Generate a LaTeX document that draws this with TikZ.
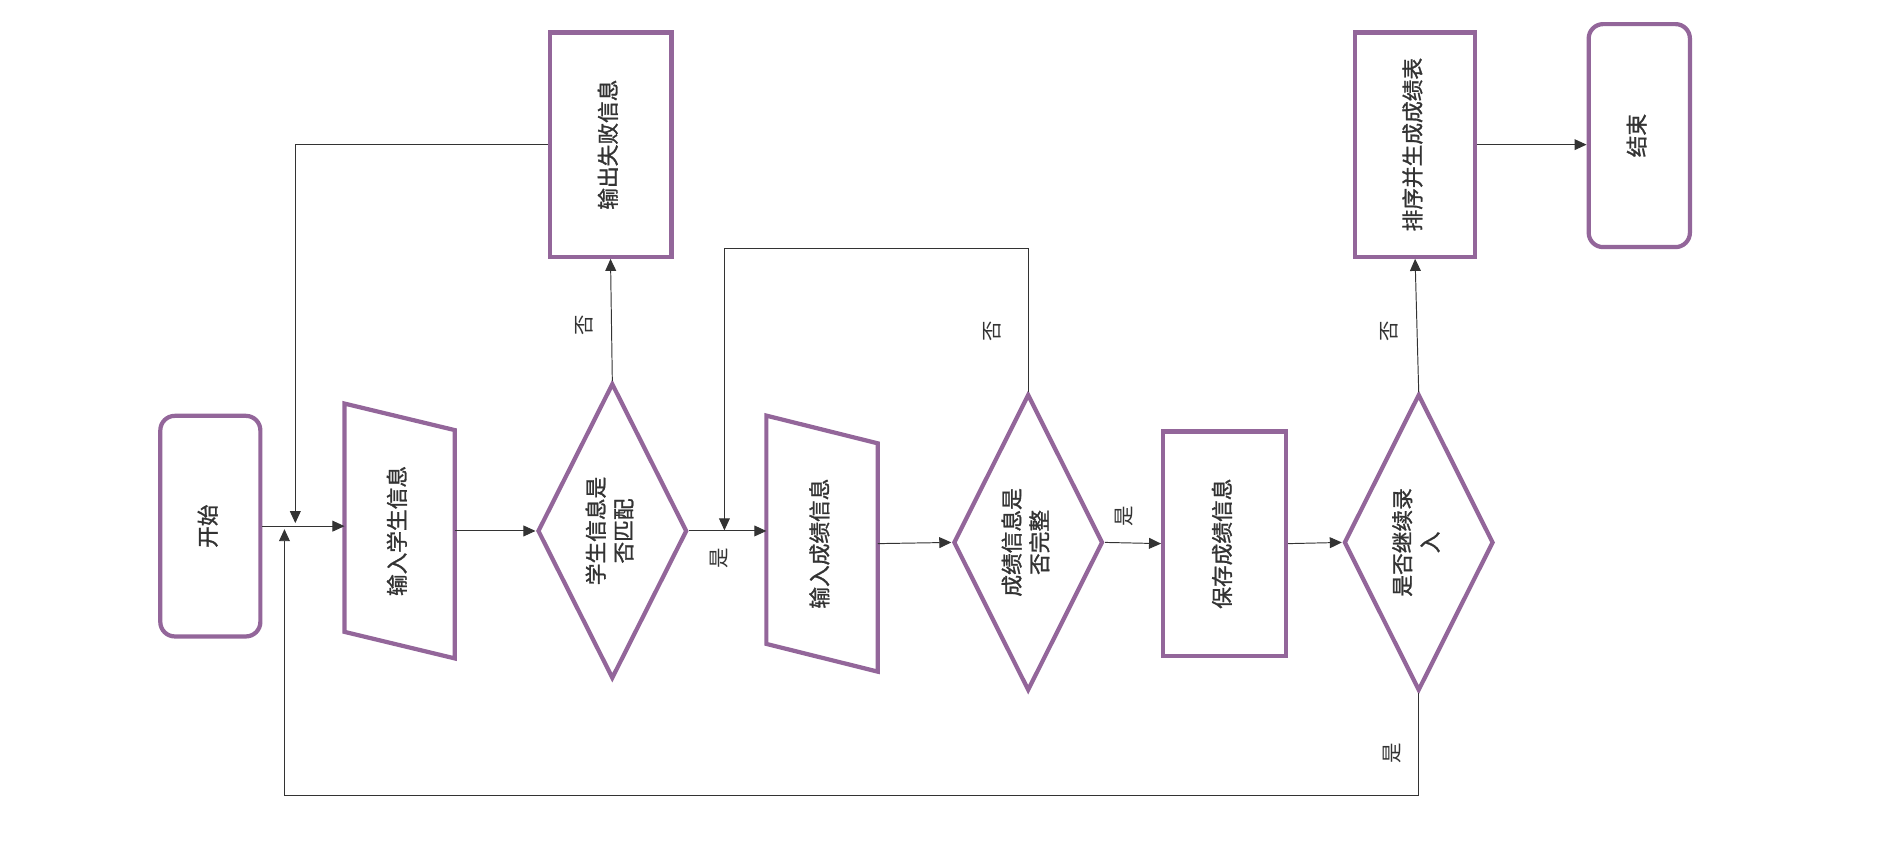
\documentclass[tikz,border=0pt]{standalone}
\usepackage{fontspec}
\setmainfont{Noto Sans CJK SC}
\newfontfamily\boxfont[FakeBold=1.2]{Noto Sans CJK SC}
\usepackage{tikz}
\usetikzlibrary{shapes.geometric,arrows.meta}
\definecolor{boxpurple}{HTML}{93669A}
\definecolor{txtgrey}{HTML}{333333}
\newcommand{\vtxt}[1]{\rotatebox{90}{\begin{tabular}{@{}c@{}}#1\end{tabular}}}

\begin{document}
\begin{tikzpicture}[x=1pt,y=1pt,
	box/.style={draw=boxpurple,line width=3.5pt},
	roundbox/.style={box,rounded corners=12pt},
	decision/.style={box,diamond,aspect=0.5},
	arrow/.style={draw=txtgrey,line width=0.8pt,-{Triangle[length=10pt,width=9pt]}},
	answer/.style={font=\normalfont\fontsize{17}{19}\selectfont,rotate=90}]
			\tikzstyle{every node}+=[inner sep=0pt,text=txtgrey,font=\boxfont\fontsize{18}{23}\selectfont]
			\useasboundingbox (0,0) rectangle (1568,-718.5);
			\node [roundbox,minimum width=83pt,minimum height=183pt] (start) at (174.5,-436.5) {\vtxt{开始}};
			\node [minimum width=91pt,minimum height=211pt] (in1) at (331.5,-440.5) {\vtxt{输入学生信息}};
			\draw [box] (in1.north west) -- ([yshift=-22pt]in1.north east) -- (in1.south east) -- ([yshift=22pt]in1.south west) -- cycle;
			\node [decision,minimum width=124pt,minimum height=245pt] (d1) at (508,-440.5) {\vtxt{学生信息是\\否匹配}};
			\node [box,minimum width=101pt,minimum height=186pt] (fail) at (506.5,-120) {\vtxt{输出失败信息}};
			\node [minimum width=92pt,minimum height=212pt] (in2) at (682,-451) {\vtxt{输入成绩信息}};
			\draw [box] (in2.north west) -- ([yshift=-23pt]in2.north east) -- (in2.south east) -- ([yshift=23pt]in2.south west) -- cycle;
			\node [decision,minimum width=124pt,minimum height=246pt] (d2) at (853,-450) {\vtxt{成绩信息是\\否完整}};
			\node [box,minimum width=102pt,minimum height=186pt] (save) at (1016,-451) {\vtxt{保存成绩信息}};
			\node [decision,minimum width=124pt,minimum height=246pt] (d3) at (1177,-450) {\vtxt{是否继续录\\入}};
			\node [box,minimum width=100pt,minimum height=186pt] (sort) at (1174,-120) {\vtxt{排序并生成成绩表}};
			\node [roundbox,minimum width=84pt,minimum height=185pt] (stop) at (1360,-112.5) {\vtxt{结束}};
			\coordinate (join1) at (245,-434);
			\coordinate (join2) at (236,-439);
			\coordinate (loopbot) at (236,-660);
			\coordinate (join3) at (601,-440);
			\coordinate (looptop) at (601,-206);
			\draw [arrow] (start.east) -- (start.east -| in1.west);
			\draw [arrow] (in1.east) -- (d1.west);
			\draw [arrow] (d1.north) -- (fail.south);
			\draw [arrow] (d1.east) -- (d1.east -| in2.west);
			\draw [arrow] (in2.east) -- (d2.west);
			\draw [arrow] (d2.east) -- (save.west);
			\draw [arrow] (save.east) -- (d3.west);
			\draw [arrow] (d3.north) -- (sort.south);
			\draw [arrow] (sort.east) -- (sort.east -| stop.west);
			\draw [arrow] (fail.west) -| (join1);
			\draw [arrow] (d2.north) |- (looptop) -- (join3);
			\draw [arrow] (d3.south) |- (loopbot) -- (join2);
			\node [answer] (no1) at (485,-270) {否};
			\node [answer] (yes1) at (597,-463) {是};
			\node [answer] (no2) at (823,-275) {否};
			\node [answer] (yes2) at (933,-428) {是};
			\node [answer] (no3) at (1153,-275) {否};
			\node [answer] (yes3) at (1155,-625) {是};
\end{tikzpicture}
\end{document}
